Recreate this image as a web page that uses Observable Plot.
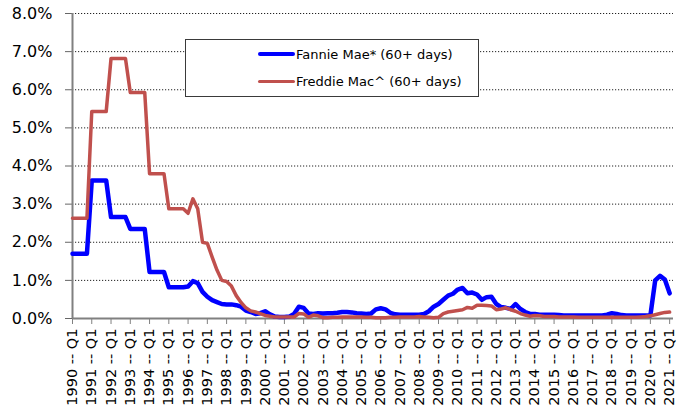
<!DOCTYPE html>
<html><head><meta charset="utf-8">
<script src="https://cdn.jsdelivr.net/npm/d3@7"></script>
<script src="https://cdn.jsdelivr.net/npm/@observablehq/plot@0.6"></script>
<style>
body{margin:0;background:#fff;}
#wrap{position:relative;width:686px;height:411px;overflow:hidden;}
#legend{position:absolute;left:185px;top:39px;width:292px;height:56px;border:1px solid #3a3a3a;background:#fff;font-family:"DejaVu Sans";font-size:13px;color:#000;}
.row{position:absolute;left:72px;display:flex;align-items:center;height:16px;white-space:nowrap;}
.sw{width:37px;border-radius:2px;margin-right:1px;}
</style></head><body><div id="wrap"></div>
<script>
// Tick years (labels "YYYY -- Q1"), quarterly data 1990 Q1 .. 2021 Q1
const tickYears = [1990,1991,1992,1993,1994,1995,1996,1997,1998,1999,2000,2001,2002,2003,2004,2005,2006,2007,2008,2009,2010,2011,2012,2013,2014,2015,2016,2017,2018,2019,2020,2021];
const seriesNames = ["Fannie Mae* (60+ days)", "Freddie Mac^ (60+ days)"];
const seriesColors = ["#0000ff", "#c0504d"];
// Fannie Mae 60+ day delinquency rate, % (quarterly)
const fannie = [
  1.70,1.70,1.70,1.70, 3.62,3.62,3.62,3.62, 2.66,2.66,2.66,2.66, 2.35,2.35,2.35,2.35,
  1.22,1.22,1.22,1.22, 0.82,0.82,0.82,0.82, 0.84,0.98,0.93,0.70, 0.57,0.48,0.43,0.38,
  0.37,0.37,0.35,0.31, 0.21,0.17,0.12,0.14, 0.19,0.11,0.05,0.04, 0.04,0.05,0.12,0.31,
  0.28,0.13,0.12,0.14, 0.13,0.14,0.14,0.15, 0.17,0.17,0.16,0.14, 0.13,0.12,0.13,0.24,
  0.27,0.24,0.15,0.11, 0.10,0.10,0.10,0.10, 0.10,0.12,0.19,0.31, 0.38,0.49,0.60,0.65,
  0.76,0.80,0.66,0.68, 0.63,0.49,0.56,0.57, 0.38,0.30,0.28,0.25, 0.38,0.25,0.17,0.12,
  0.12,0.10,0.10,0.10, 0.10,0.09,0.08,0.08, 0.08,0.08,0.08,0.08, 0.08,0.08,0.08,0.10,
  0.14,0.12,0.09,0.08, 0.08,0.08,0.08,0.08, 0.08,1.00,1.12,1.02, 0.66
];
// Freddie Mac 60+ day delinquency rate, % (quarterly)
const freddie = [
  2.63,2.63,2.63,2.63, 5.43,5.43,5.43,5.43, 6.82,6.82,6.82,6.82, 5.93,5.93,5.93,5.93,
  3.80,3.80,3.80,3.80, 2.88,2.88,2.88,2.88, 2.76,3.14,2.88,2.00, 1.97,1.61,1.27,1.00,
  0.97,0.85,0.60,0.42, 0.28,0.20,0.17,0.13, 0.08,0.06,0.04,0.04, 0.04,0.04,0.04,0.13,
  0.12,0.03,0.09,0.07, 0.02,0.02,0.03,0.03, 0.04,0.04,0.04,0.04, 0.04,0.03,0.03,0.02,
  0.02,0.02,0.03,0.03, 0.04,0.04,0.04,0.04, 0.05,0.04,0.03,0.02, 0.03,0.13,0.17,0.19,
  0.21,0.23,0.29,0.27, 0.35,0.35,0.34,0.33, 0.23,0.25,0.28,0.23, 0.19,0.13,0.09,0.06,
  0.08,0.07,0.05,0.05, 0.05,0.04,0.04,0.04, 0.04,0.03,0.03,0.03, 0.03,0.03,0.03,0.03,
  0.03,0.03,0.03,0.03, 0.03,0.03,0.04,0.05, 0.07,0.10,0.13,0.16, 0.17
];
const yTicks = [0,1,2,3,4,5,6,7,8];

const fannieData = fannie.map((v,i)=>({q:i, v}));
const freddieData = freddie.map((v,i)=>({q:i, v}));
const tickIdx = tickYears.map((y,i)=>i*4);
const tickLabel = new Map(tickYears.map((y,i)=>[i*4, `${y} -- Q1`]));

const chart = Plot.plot({
  width:686, height:411,
  marginLeft:72, marginRight:13, marginTop:13, marginBottom:93,
  style:{fontFamily:"DejaVu Sans", background:"#fff", color:"#000"},
  x:{domain:[0,124.8], label:null},
  y:{domain:[0,8], label:null},
  marks:[
    Plot.ruleY(yTicks.filter(d=>d>0), {stroke:"#222", strokeDasharray:"1.2,1.8", strokeWidth:1}),
    Plot.axisY(yTicks, {tickSize:7, tickPadding:13, tickFormat:d=>d.toFixed(1)+"%", fontSize:16, stroke:"#666", label:null}),
    Plot.axisX(tickIdx, {tickSize:6, tickPadding:4, tickRotate:-90, tickFormat:i=>tickLabel.get(i), fontSize:14.5, stroke:"#808080", label:null}),
    Plot.ruleX([0], {stroke:"#808080", strokeWidth:2}),
    Plot.ruleY([0], {stroke:"#808080", strokeWidth:2}),
    Plot.line(fannieData, {x:"q", y:"v", stroke:seriesColors[0], strokeWidth:4.5, strokeLinejoin:"round"}),
    Plot.line(freddieData, {x:"q", y:"v", stroke:seriesColors[1], strokeWidth:3.5, strokeLinejoin:"round"})
  ]
});
const wrap = document.getElementById("wrap");
wrap.appendChild(chart);

const legend = document.createElement("div");
legend.id = "legend";
const rowTops = [6, 33.7];
const swH = [4.5, 3.5];
seriesNames.forEach((name,i)=>{
  const row = document.createElement("div");
  row.className = "row";
  row.style.top = rowTops[i] + "px";
  const sw = document.createElement("span");
  sw.className = "sw";
  sw.style.height = swH[i] + "px";
  sw.style.background = seriesColors[i];
  const t = document.createElement("span");
  t.textContent = name;
  row.appendChild(sw); row.appendChild(t);
  legend.appendChild(row);
});
wrap.appendChild(legend);
</script>
</body></html>
